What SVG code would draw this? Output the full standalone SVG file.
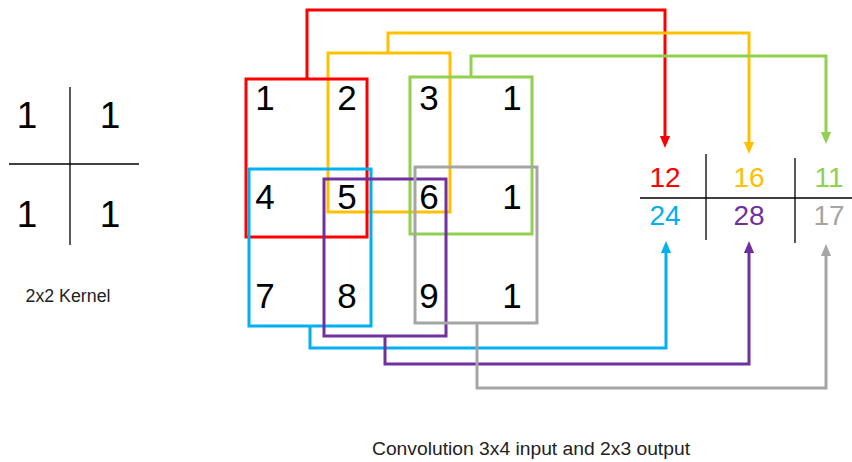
<svg xmlns="http://www.w3.org/2000/svg" width="852" height="462" viewBox="0 0 852 462">
<style>
.t{font-family:"Liberation Sans",Arial,sans-serif;fill:#000}
.big{font-size:35px;text-anchor:middle}
.k{font-size:37px;text-anchor:middle}
.o{font-size:28px;text-anchor:middle}
.cap{font-size:18px;text-anchor:middle;fill:#222}
.box{fill:none;stroke-width:3}
.con{fill:none;stroke-width:3}
.grid{stroke:#000;stroke-width:1.3}
</style>
<defs>
<marker id="aR" markerWidth="4" markerHeight="4" refX="2" refY="2" orient="auto" markerUnits="strokeWidth"><path d="M0,0.3 L4,2 L0,3.7 z" fill="#FF0000"/></marker>
<marker id="aY" markerWidth="4" markerHeight="4" refX="2" refY="2" orient="auto" markerUnits="strokeWidth"><path d="M0,0.3 L4,2 L0,3.7 z" fill="#FFC000"/></marker>
<marker id="aG" markerWidth="4" markerHeight="4" refX="2" refY="2" orient="auto" markerUnits="strokeWidth"><path d="M0,0.3 L4,2 L0,3.7 z" fill="#92D050"/></marker>
<marker id="aB" markerWidth="4" markerHeight="4" refX="2" refY="2" orient="auto" markerUnits="strokeWidth"><path d="M0,0.3 L4,2 L0,3.7 z" fill="#00B0F0"/></marker>
<marker id="aP" markerWidth="4" markerHeight="4" refX="2" refY="2" orient="auto" markerUnits="strokeWidth"><path d="M0,0.3 L4,2 L0,3.7 z" fill="#7030A0"/></marker>
<marker id="aS" markerWidth="4" markerHeight="4" refX="2" refY="2" orient="auto" markerUnits="strokeWidth"><path d="M0,0.3 L4,2 L0,3.7 z" fill="#A5A5A5"/></marker>
</defs>

<g id="kernel">
<line class="grid" x1="70" y1="87" x2="70" y2="245"/>
<line class="grid" x1="9" y1="164" x2="139" y2="164"/>
<text class="t k" x="27" y="128">1</text>
<text class="t k" x="110" y="128">1</text>
<text class="t k" x="27" y="227">1</text>
<text class="t k" x="110" y="227">1</text>
<text class="t cap" x="68" y="302" textLength="85" lengthAdjust="spacingAndGlyphs">2x2 Kernel</text>
</g>

<g id="input">
<text class="t big" x="265" y="110">1</text>
<text class="t big" x="347" y="110">2</text>
<text class="t big" x="429" y="110">3</text>
<text class="t big" x="512" y="110">1</text>
<text class="t big" x="265" y="209">4</text>
<text class="t big" x="347" y="209">5</text>
<text class="t big" x="429" y="209">6</text>
<text class="t big" x="512" y="209">1</text>
<text class="t big" x="265" y="308">7</text>
<text class="t big" x="347" y="308">8</text>
<text class="t big" x="429" y="308">9</text>
<text class="t big" x="512" y="308">1</text>
</g>

<g id="windows">
<rect id="win-yellow" class="box" x="328" y="53" width="122" height="159" stroke="#FFC000"/>
<rect id="win-red" class="box" x="246" y="79" width="121" height="158" stroke="#FF0000"/>
<rect id="win-green" class="box" x="410" y="77" width="122" height="157" stroke="#92D050"/>
<rect id="win-blue" class="box" x="249" y="169" width="122" height="157" stroke="#00B0F0"/>
<rect id="win-purple" class="box" x="324" y="179" width="122" height="157" stroke="#7030A0"/>
<rect id="win-gray" class="box" x="415" y="167" width="122" height="156" stroke="#A5A5A5"/>
</g>

<g id="output">
<line class="grid" x1="640" y1="198" x2="852" y2="198"/>
<line class="grid" x1="706" y1="154" x2="706" y2="240"/>
<line class="grid" x1="795" y1="158" x2="795" y2="243"/>
<text class="t o" x="665" y="187" style="fill:#FF0000">12</text>
<text class="t o" x="749" y="187" style="fill:#FFC000">16</text>
<text class="t o" x="829" y="187" style="fill:#92D050">11</text>
<text class="t o" x="665" y="225" style="fill:#00B0F0">24</text>
<text class="t o" x="749" y="225" style="fill:#7030A0">28</text>
<text class="t o" x="829" y="225" style="fill:#A5A5A5">17</text>
</g>

<g id="connectors">
<polyline class="con" stroke="#FF0000" points="307,79 307,10 665,10 665,142" marker-end="url(#aR)"/>
<polyline class="con" stroke="#FFC000" points="388,53 388,33 749,33 749,148" marker-end="url(#aY)"/>
<polyline class="con" stroke="#92D050" points="471,77 471,56 826,56 826,138" marker-end="url(#aG)"/>
<polyline class="con" stroke="#00B0F0" points="310,326 310,348 666,348 666,247" marker-end="url(#aB)"/>
<polyline class="con" stroke="#7030A0" points="385,336 385,364 749,364 749,247" marker-end="url(#aP)"/>
<polyline class="con" stroke="#A5A5A5" points="477,323 477,388 826,388 826,250" marker-end="url(#aS)"/>
</g>

<text class="t cap" x="531" y="455" textLength="318" lengthAdjust="spacingAndGlyphs">Convolution 3x4 input and 2x3 output</text>
</svg>
